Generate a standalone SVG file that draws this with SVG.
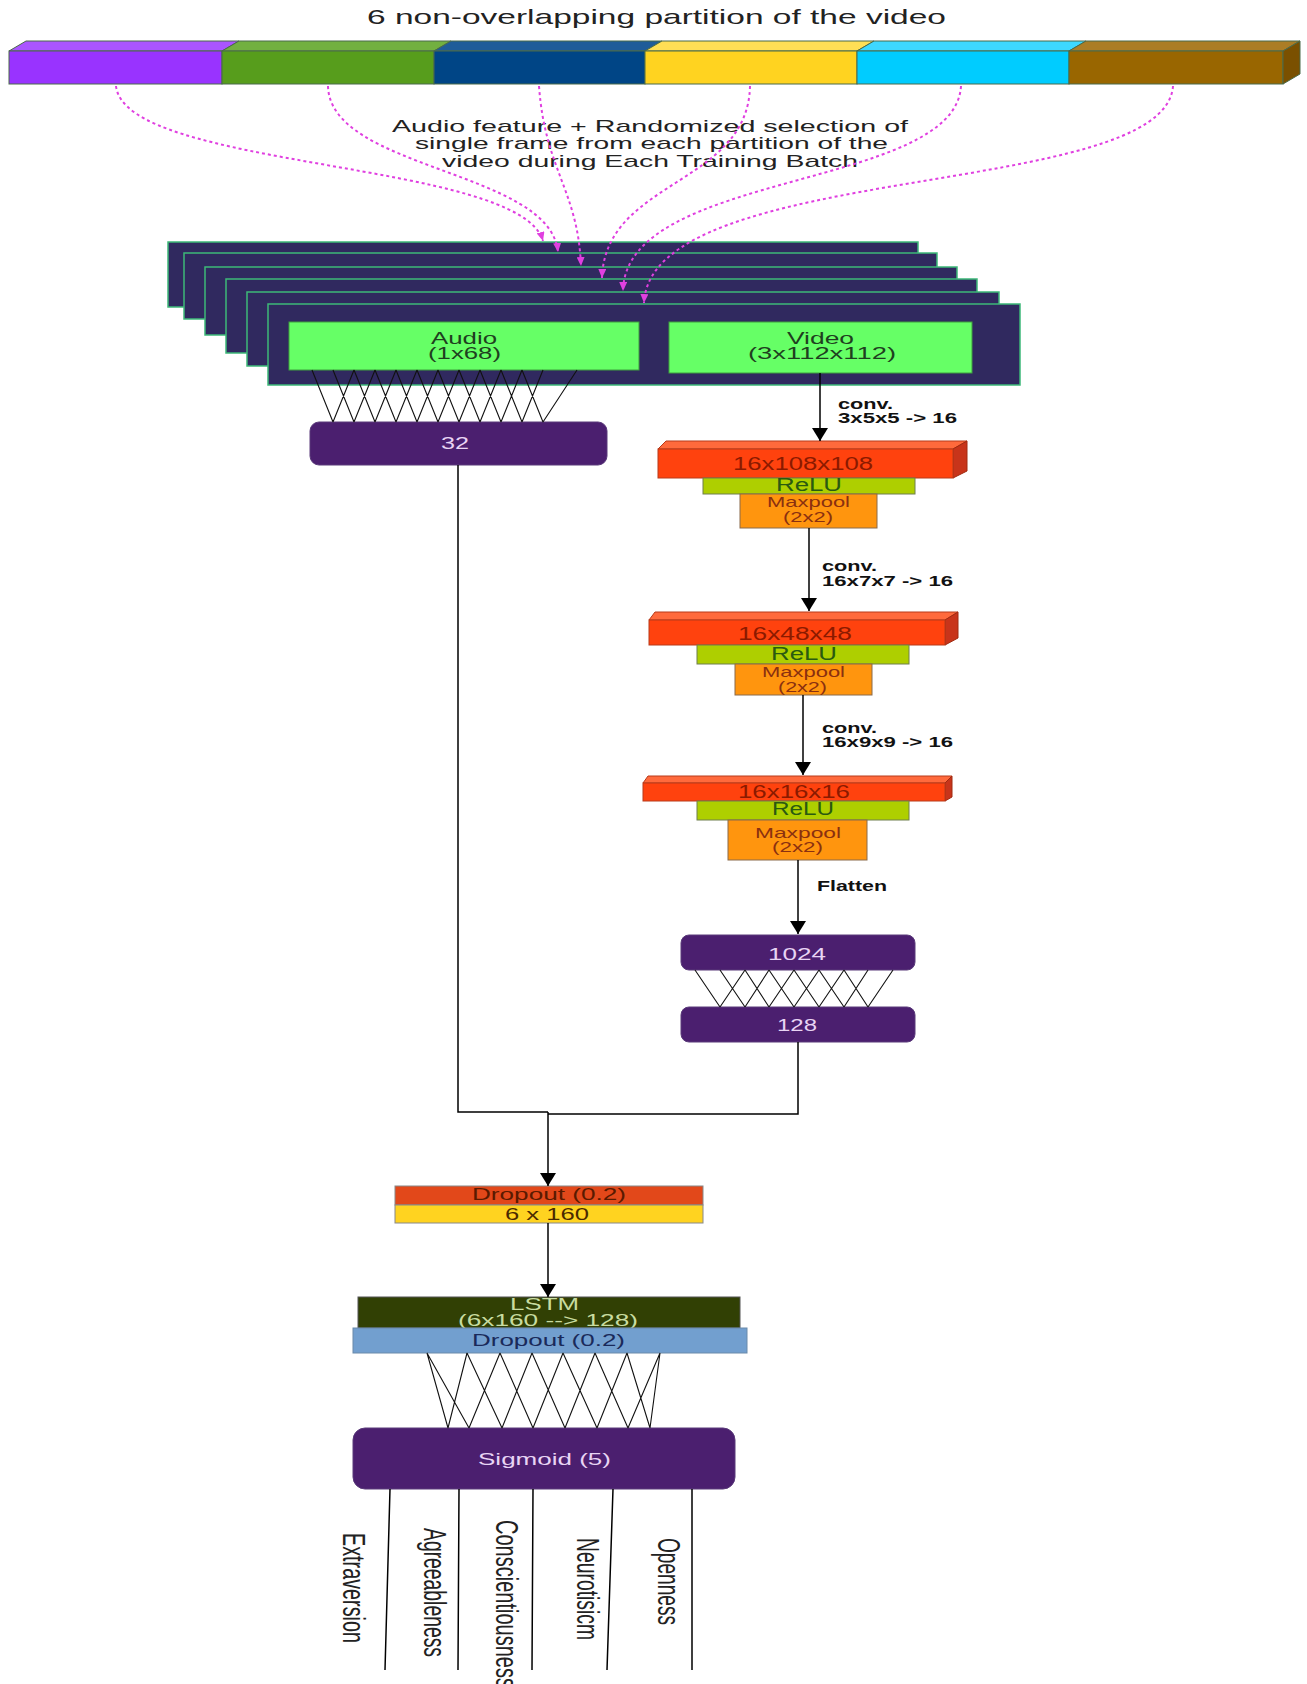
<svg xmlns="http://www.w3.org/2000/svg" width="1307" height="1684" viewBox="0 0 1307 1684">
<defs>
<marker id="ah" viewBox="0 0 13 16" refX="13" refY="8" markerWidth="13" markerHeight="16" markerUnits="userSpaceOnUse" orient="auto"><path d="M0,0 L13,8 L0,16 z" fill="#000"/></marker>
<marker id="mh" viewBox="0 0 9 8" refX="9" refY="4" markerWidth="9" markerHeight="8" markerUnits="userSpaceOnUse" orient="auto"><path d="M0,0 L9,4 L0,8 z" fill="#e040e0"/></marker>
</defs>
<style>
text { font-family: "Liberation Sans", Arial, sans-serif; }
.frame { fill: #30295f; stroke: #3cb878; stroke-width: 1.5; }
.gbox { fill: #66ff66; stroke: #3f9f3f; stroke-width: 1; }
.pbox { fill: #4b1f6f; stroke: #5a3a7a; stroke-width: 1; }
.red { fill: #ff420e; stroke: #b83a1a; stroke-width: 1; }
.redtop { fill: #ff6a3c; stroke: #b83a1a; stroke-width: 1; }
.redside { fill: #c8341a; stroke: #a02a10; stroke-width: 1; }
.relu { fill: #aecf00; stroke: #6f7f4f; stroke-width: 1; }
.maxp { fill: #ff950e; stroke: #8a6a4a; stroke-width: 1; }
.wire { fill: none; stroke: #000; stroke-width: 1.5; }
.mesh { fill: none; stroke: #111; stroke-width: 1.1; }
.arr { fill: none; stroke: #000; stroke-width: 1.5; marker-end: url(#ah); }
.dash { fill: none; stroke: #e040e0; stroke-width: 2; stroke-dasharray: 3 3; marker-end: url(#mh); }
.lbl { fill: #222; font-size: 17px; }
.bold { fill: #111; font-size: 15px; font-weight: bold; }
.wt { fill: #e8d4f4; font-size: 16px; }
.gt { fill: #1f3f1f; font-size: 16px; }
.rt { fill: #8b1a00; font-size: 18px; }
.lt { fill: #2a5a10; font-size: 18px; }
.mt { fill: #8a3010; font-size: 15px; }
.out { fill: #222; font-size: 32px; }
.bar { stroke: #4a6a4a; stroke-width: 1; }
</style>

<g id="title"><text class="lbl" x="367" y="24" textLength="579" lengthAdjust="spacingAndGlyphs" style="font-size:21px">6 non-overlapping partition of the video</text></g>

<g id="video-bar">
<polygon class="bar" points="9,51 26,41 239,41 222,51" fill="#aa55ff"/>
<polygon class="bar" points="222,51 239,41 451,41 434,51" fill="#72b040"/>
<polygon class="bar" points="434,51 451,41 662,41 645,51" fill="#1f5c99"/>
<polygon class="bar" points="645,51 662,41 874,41 857,51" fill="#ffdf55"/>
<polygon class="bar" points="857,51 874,41 1086,41 1069,51" fill="#3dd8ff"/>
<polygon class="bar" points="1069,51 1086,41 1300,41 1283,51" fill="#ab7d25"/>
<rect class="bar" x="9" y="51" width="213" height="33" fill="#9933ff"/>
<rect class="bar" x="222" y="51" width="212" height="33" fill="#579d1c"/>
<rect class="bar" x="434" y="51" width="211" height="33" fill="#004586"/>
<rect class="bar" x="645" y="51" width="212" height="33" fill="#ffd320"/>
<rect class="bar" x="857" y="51" width="212" height="33" fill="#00ccff"/>
<rect class="bar" x="1069" y="51" width="214" height="33" fill="#996600"/>
<polygon class="bar" points="1283,51 1300,41 1300,74 1283,84" fill="#7a5000"/>
</g>

<g id="caption">
<text class="lbl" x="392" y="132" textLength="516" lengthAdjust="spacingAndGlyphs">Audio feature + Randomized selection  of</text>
<text class="lbl" x="415" y="149" textLength="473" lengthAdjust="spacingAndGlyphs">single frame from each partition of the</text>
<text class="lbl" x="442" y="167" textLength="416" lengthAdjust="spacingAndGlyphs">video during Each Training Batch</text>
</g>

<g id="frames">
<rect class="frame" x="168" y="242" width="750" height="65"/>
<rect class="frame" x="184" y="253" width="753" height="66"/>
<rect class="frame" x="205" y="267" width="752" height="68"/>
<rect class="frame" x="226" y="279" width="751" height="74"/>
<rect class="frame" x="247" y="292" width="752" height="74"/>
<rect class="frame" x="268" y="304" width="752" height="81"/>
</g>

<g id="audio-input">
<rect class="gbox" x="289" y="322" width="350" height="48"/>
<text class="gt" x="431" y="344" textLength="66" lengthAdjust="spacingAndGlyphs">Audio</text>
<text class="gt" x="428" y="359" textLength="73" lengthAdjust="spacingAndGlyphs">(1x68)</text>
</g>

<g id="video-input">
<rect class="gbox" x="669" y="322" width="303" height="51"/>
<text class="gt" x="787" y="344" textLength="67" lengthAdjust="spacingAndGlyphs">Video</text>
<text class="gt" x="748" y="359" textLength="148" lengthAdjust="spacingAndGlyphs">(3x112x112)</text>
</g>

<g id="dense-32">
<rect class="pbox" x="310" y="422" width="297" height="43" rx="9"/>
<text class="wt" x="441" y="449" textLength="28" lengthAdjust="spacingAndGlyphs">32</text>
</g>

<g id="conv-block-1">
<polygon class="redtop" points="658,449 666,441 967,441 953,449"/>
<polygon class="redside" points="953,449 967,441 967,471 953,478"/>
<rect class="red" x="658" y="449" width="295" height="29"/>
<text class="rt" x="733" y="470" textLength="140" lengthAdjust="spacingAndGlyphs">16x108x108</text>
<rect class="relu" x="703" y="478" width="212" height="16"/>
<text class="lt" x="776" y="491" textLength="66" lengthAdjust="spacingAndGlyphs">ReLU</text>
<rect class="maxp" x="740" y="494" width="137" height="34"/>
<text class="mt" x="767" y="507" textLength="83" lengthAdjust="spacingAndGlyphs">Maxpool</text>
<text class="mt" x="783" y="522" textLength="50" lengthAdjust="spacingAndGlyphs">(2x2)</text>
</g>

<g id="conv-block-2">
<polygon class="redtop" points="649,620 655,612 958,612 945,620"/>
<polygon class="redside" points="945,620 958,612 958,638 945,645"/>
<rect class="red" x="649" y="620" width="296" height="25"/>
<text class="rt" x="738" y="640" textLength="114" lengthAdjust="spacingAndGlyphs">16x48x48</text>
<rect class="relu" x="697" y="645" width="212" height="19"/>
<text class="lt" x="771" y="660" textLength="66" lengthAdjust="spacingAndGlyphs">ReLU</text>
<rect class="maxp" x="735" y="664" width="137" height="31"/>
<text class="mt" x="762" y="677" textLength="83" lengthAdjust="spacingAndGlyphs">Maxpool</text>
<text class="mt" x="778" y="692" textLength="49" lengthAdjust="spacingAndGlyphs">(2x2)</text>
</g>

<g id="conv-block-3">
<polygon class="redtop" points="643,783 648,776 952,776 945,783"/>
<polygon class="redside" points="945,783 952,776 952,797 945,801"/>
<rect class="red" x="643" y="783" width="302" height="18"/>
<text class="rt" x="738" y="798" textLength="112" lengthAdjust="spacingAndGlyphs">16x16x16</text>
<rect class="relu" x="697" y="801" width="212" height="19"/>
<text class="lt" x="772" y="815" textLength="62" lengthAdjust="spacingAndGlyphs">ReLU</text>
<rect class="maxp" x="728" y="820" width="139" height="40"/>
<text class="mt" x="755" y="838" textLength="86" lengthAdjust="spacingAndGlyphs">Maxpool</text>
<text class="mt" x="772" y="852" textLength="51" lengthAdjust="spacingAndGlyphs">(2x2)</text>
</g>

<g id="dense-1024">
<rect class="pbox" x="681" y="935" width="234" height="35" rx="8"/>
<text class="wt" x="768" y="960" textLength="58" lengthAdjust="spacingAndGlyphs">1024</text>
</g>

<g id="dense-128">
<rect class="pbox" x="681" y="1007" width="234" height="35" rx="8"/>
<text class="wt" x="777" y="1031" textLength="40" lengthAdjust="spacingAndGlyphs">128</text>
</g>

<g id="dropout-concat">
<rect x="395" y="1186" width="308" height="19" fill="#e2481a" stroke="#888" stroke-width="1"/>
<text class="lbl" x="472" y="1200" textLength="154" lengthAdjust="spacingAndGlyphs" style="fill:#5a1a00">Dropout (0.2)</text>
<rect x="395" y="1205" width="308" height="18" fill="#ffd320" stroke="#888" stroke-width="1"/>
<text class="lbl" x="505" y="1220" textLength="84" lengthAdjust="spacingAndGlyphs" style="fill:#4a2a00">6 x 160</text>
</g>

<g id="lstm">
<rect x="358" y="1297" width="382" height="31" fill="#314004" stroke="#555" stroke-width="1"/>
<text class="lbl" x="510" y="1310" textLength="69" lengthAdjust="spacingAndGlyphs" style="fill:#c8dca0;font-size:16px">LSTM</text>
<text class="lbl" x="458" y="1326" textLength="180" lengthAdjust="spacingAndGlyphs" style="fill:#c8dca0;font-size:16px">(6x160 --&gt; 128)</text>
<rect x="353" y="1328" width="394" height="25" fill="#729fcf" stroke="#6a8aaa" stroke-width="1"/>
<text class="lbl" x="472" y="1346" textLength="153" lengthAdjust="spacingAndGlyphs" style="fill:#1a2a5a">Dropout (0.2)</text>
</g>

<g id="sigmoid">
<rect class="pbox" x="353" y="1428" width="382" height="61" rx="12"/>
<text class="wt" x="478" y="1465" textLength="133" lengthAdjust="spacingAndGlyphs" style="font-size:17px">Sigmoid (5)</text>
</g>

<g id="outputs">
<text class="out" transform="translate(343,1533) rotate(90)" x="0" y="0" textLength="110" lengthAdjust="spacingAndGlyphs">Extraversion</text>
<text class="out" transform="translate(424,1528) rotate(90)" x="0" y="0" textLength="129" lengthAdjust="spacingAndGlyphs">Agreeableness</text>
<text class="out" transform="translate(496,1520) rotate(90)" x="0" y="0" textLength="168" lengthAdjust="spacingAndGlyphs">Conscientiousness</text>
<text class="out" transform="translate(577,1538) rotate(90)" x="0" y="0" textLength="102" lengthAdjust="spacingAndGlyphs">Neurotisicm</text>
<text class="out" transform="translate(658,1538) rotate(90)" x="0" y="0" textLength="87" lengthAdjust="spacingAndGlyphs">Openness</text>
</g>

<g id="connectors">
<path class="dash" d="M116,86 C125,170 520,160 543,241"/>
<path class="dash" d="M328,86 C330,170 550,170 558,252"/>
<path class="dash" d="M539,86 C545,170 578,190 581,266"/>
<path class="dash" d="M750,86 C748,185 605,180 602,278"/>
<path class="dash" d="M961,86 C955,190 625,170 623,291"/>
<path class="dash" d="M1173,86 C1165,200 650,160 644,303"/>

<path class="mesh" d="M312,370 L333,422 M333,370 L354,422 M354,370 L375,422 M375,370 L396,422 M396,370 L417,422 M417,370 L438,422 M438,370 L459,422 M459,370 L480,422 M480,370 L501,422 M501,370 L522,422 M522,370 L543,422 M354,370 L333,422 M375,370 L354,422 M396,370 L375,422 M417,370 L396,422 M438,370 L417,422 M459,370 L438,422 M480,370 L459,422 M501,370 L480,422 M522,370 L501,422 M543,370 L522,422 M577,370 L543,422"/>

<path class="mesh" d="M695,970 L720,1007 M720,970 L745,1007 M745,970 L769,1007 M769,970 L794,1007 M794,970 L819,1007 M819,970 L844,1007 M844,970 L868,1007 M745,970 L720,1007 M769,970 L745,1007 M794,970 L769,1007 M819,970 L794,1007 M844,970 L819,1007 M868,970 L844,1007 M893,970 L868,1007"/>

<path class="mesh" d="M427,1353 L448,1428 M427,1353 L469,1428 M467,1353 L448,1428 M467,1353 L502,1428 M500,1353 L469,1428 M500,1353 L533,1428 M532,1353 L502,1428 M532,1353 L565,1428 M563,1353 L533,1428 M563,1353 L597,1428 M595,1353 L565,1428 M595,1353 L628,1428 M627,1353 L597,1428 M627,1353 L650,1428 M660,1353 L628,1428 M660,1353 L650,1428"/>

<path class="arr" d="M820,373 V441"/>
<text class="bold" x="838" y="409" textLength="55" lengthAdjust="spacingAndGlyphs">conv.</text>
<text class="bold" x="838" y="423" textLength="119" lengthAdjust="spacingAndGlyphs">3x5x5 -&gt; 16</text>

<path class="arr" d="M809,528 V611"/>
<text class="bold" x="822" y="571" textLength="55" lengthAdjust="spacingAndGlyphs">conv.</text>
<text class="bold" x="822" y="586" textLength="131" lengthAdjust="spacingAndGlyphs">16x7x7 -&gt; 16</text>

<path class="arr" d="M803,695 V775"/>
<text class="bold" x="822" y="733" textLength="55" lengthAdjust="spacingAndGlyphs">conv.</text>
<text class="bold" x="822" y="747" textLength="131" lengthAdjust="spacingAndGlyphs">16x9x9 -&gt; 16</text>

<path class="arr" d="M798,860 V934"/>
<text class="bold" x="817" y="891" textLength="70" lengthAdjust="spacingAndGlyphs">Flatten</text>

<path class="wire" d="M458,465 V1112 H548"/>
<path class="wire" d="M798,1042 V1114 H548"/>
<path class="arr" d="M548,1112 V1186"/>
<path class="arr" d="M548,1223 V1297"/>

<path class="wire" d="M390,1489 L385,1670 M459,1489 L458,1670 M533,1489 L532,1670 M613,1489 L607,1670 M692,1489 L692,1670"/>
</g>
</svg>
